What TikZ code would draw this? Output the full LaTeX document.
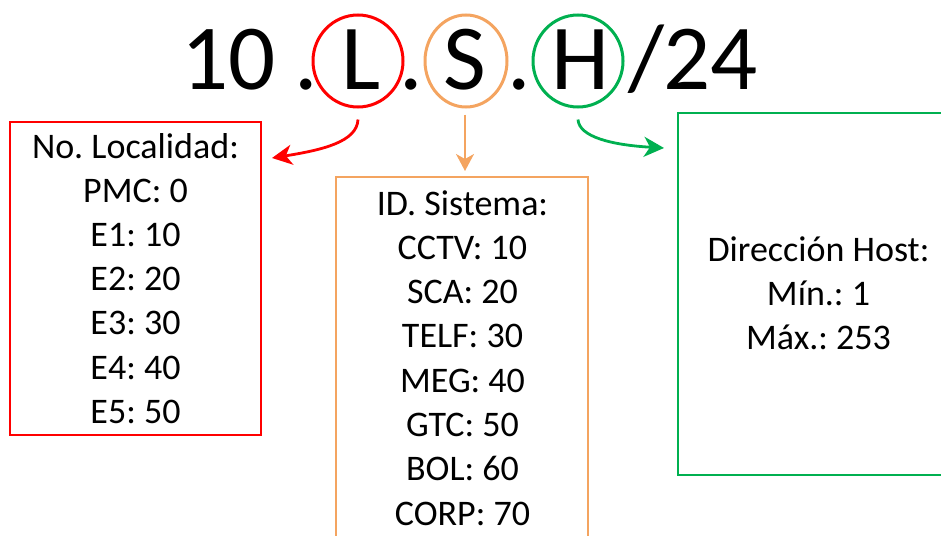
\documentclass[tikz,border=0pt]{standalone}
\usepackage{fontspec}
\setmainfont{Carlito}
\frenchspacing
\usetikzlibrary{shapes.geometric,arrows.meta}
\definecolor{cred}{RGB}{255,0,0}
\definecolor{corange}{RGB}{244,164,96}
\definecolor{cgreen}{RGB}{0,176,80}
\tikzset{
  bigtxt/.style={anchor=base,inner sep=0pt,font=\fontsize{93}{110}\selectfont},
  boxtxt/.style={anchor=base,inner sep=0pt,font=\fontsize{36}{44}\selectfont},
  ring/.style={ellipse,draw,line width=3pt,inner sep=0pt,minimum height=92pt},
  panel/.style={rectangle,draw,line width=1.5pt,inner sep=0pt},
  conn/.style={line width=2.8pt,-{Stealth[length=20pt,width=20pt,inset=6pt]}}
}
\begin{document}
\begin{tikzpicture}[x=1pt,y=-1pt]
\frenchspacing
\useasboundingbox (0,0) rectangle (941,535);
% title
\node[bigtxt] (t10) at (228.5,89) {10};
\node[bigtxt] (d1) at (306,89) {.};
\node[bigtxt] (tL) at (361,89) {L};
\node[bigtxt] (d2) at (411,89) {.};
\node[bigtxt] (tS) at (464.5,89) {S};
\node[bigtxt] (d3) at (519,89) {.};
\node[bigtxt] (tH) at (580,89) {H};
\node[bigtxt] (sl) at (646,89) {/};
\node[bigtxt] (t24) at (710.5,89) {24};
% rings
\node[ring,cred,minimum width=90pt] (rL) at (358,61) {};
\node[ring,corange,minimum width=82pt] (rS) at (466,61) {};
\node[ring,cgreen,minimum width=90pt] (rH) at (578,61) {};
% panels
\node[panel,cred,minimum width=251pt,minimum height=313pt] (bL) at (135.5,278.5) {};
\node[panel,corange,minimum width=252pt,minimum height=372pt] (bS) at (462,363) {};
\node[panel,cgreen,minimum width=280pt,minimum height=362pt] (bH) at (818,294) {};
% panel texts
\foreach \t [count=\i] in {No. Localidad:,PMC: 0,E1: 10,E2: 20,E3: 30,E4: 40,E5: 50}
  \node[boxtxt] (lL\i) at (135.5,{158+44.2*(\i-1)}) {\t};
\foreach \t [count=\i] in {ID. Sistema:,CCTV: 10,SCA: 20,TELF: 30,MEG: 40,GTC: 50,BOL: 60,CORP: 70}
  \node[boxtxt] (lS\i) at (462.5,{215+44.3*(\i-1)}) {\t};
\foreach \t [count=\i] in {Dirección Host:,Mín.: 1,Máx.: 253}
  \node[boxtxt] (lH\i) at (818.5,{261+44*(\i-1)}) {\t};
% connectors
\coordinate (aL) at (272,158);
\coordinate (aS) at (465,171);
\coordinate (aH) at (664,148);
\draw[conn,cred] ([yshift=-11pt]rL.south) .. controls (357,142) and (322,150) .. (aL);
\draw[conn,corange,line width=1.8pt,-{Stealth[length=17pt,width=18pt,inset=5pt]}] ([xshift=-1pt,yshift=-6pt]rS.south) -- (aS);
\draw[conn,cgreen] ([yshift=-11pt]rH.south) .. controls (579,137) and (612,145) .. (aH);
\end{tikzpicture}
\end{document}
